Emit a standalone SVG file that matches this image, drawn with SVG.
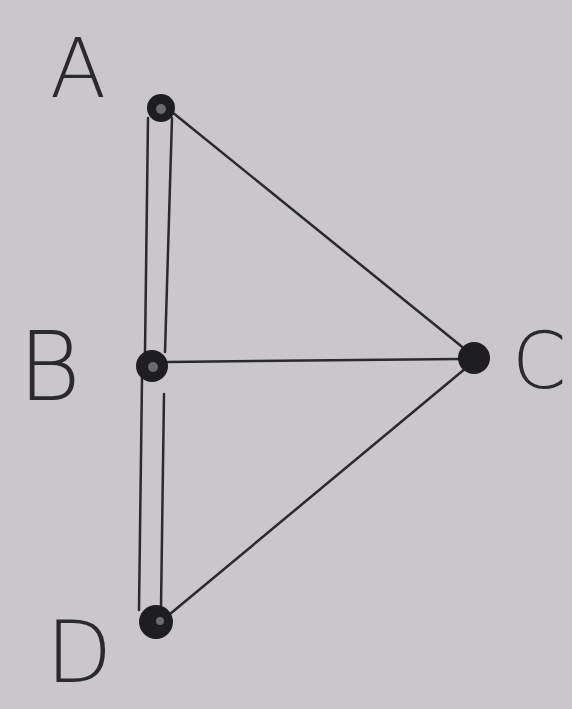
<svg xmlns="http://www.w3.org/2000/svg" width="572" height="709" viewBox="0 0 572 709">
<style>
.bg{fill:#c9c7ca}
.edge{stroke:#2a2a2c;stroke-width:2.5;fill:none;stroke-linecap:round}
.node{fill:#1e1d20}
.dot{fill:#6b6a6e}
.lbl{font-family:"DejaVu Sans","Liberation Sans",sans-serif;font-weight:200;fill:#2a2a2c}
</style>
<rect class="bg" x="0" y="0" width="572" height="709"/>
<g id="edges">
<line class="edge" x1="148" y1="118" x2="145" y2="352"/>
<line class="edge" x1="172" y1="118" x2="165" y2="352"/>
<line class="edge" x1="142" y1="378" x2="139" y2="610"/>
<line class="edge" x1="164" y1="394" x2="161" y2="608"/>
<line class="edge" x1="172" y1="112" x2="466" y2="350"/>
<line class="edge" x1="168" y1="362" x2="460" y2="359"/>
<line class="edge" x1="170" y1="614" x2="466" y2="368"/>
</g>
<g id="node-A">
<circle class="node" cx="161" cy="108" r="14"/>
<circle class="dot" cx="161" cy="109" r="5"/>
<text class="lbl" x="50" y="97" font-size="82">A</text>
</g>
<g id="node-B">
<circle class="node" cx="152" cy="366" r="16"/>
<circle class="dot" cx="153" cy="367" r="5"/>
<text class="lbl" x="18" y="400" font-size="96">B</text>
</g>
<g id="node-C">
<circle class="node" cx="474" cy="358" r="16"/>
<text class="lbl" x="512" y="388" font-size="78">C</text>
</g>
<g id="node-D">
<circle class="node" cx="156" cy="622" r="17"/>
<circle class="dot" cx="160" cy="621" r="4"/>
<text class="lbl" x="46" y="682" font-size="86">D</text>
</g>
</svg>
